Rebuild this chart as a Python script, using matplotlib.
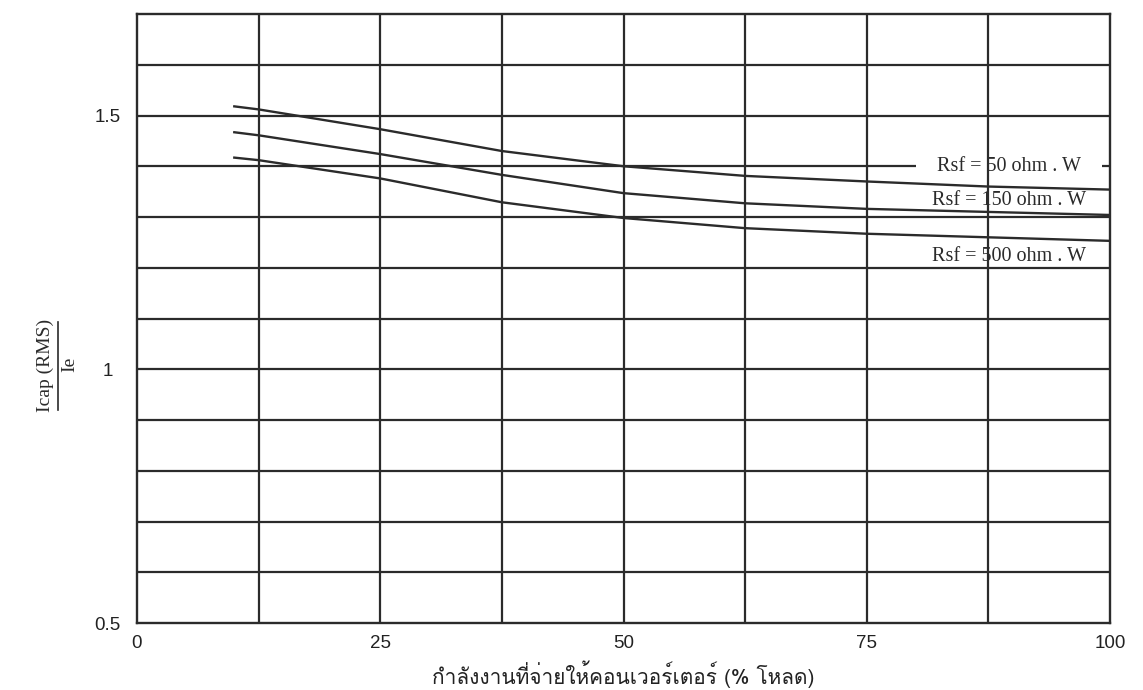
import numpy as np
import matplotlib
matplotlib.use("Agg")
import matplotlib.pyplot as plt
from matplotlib import font_manager
from matplotlib.ft2font import FT2Font
from matplotlib.lines import Line2D

# load (% of rated) and Icap(RMS)/Ie for each snubber resistance
load = [10, 12.5, 25, 37.5, 50, 62.5, 75, 87.5, 100]
rsf_50 = [1.518, 1.512, 1.473, 1.430, 1.400, 1.381, 1.370, 1.360, 1.354]
rsf_150 = [1.467, 1.461, 1.424, 1.383, 1.347, 1.327, 1.316, 1.310, 1.304]
rsf_500 = [1.417, 1.412, 1.376, 1.329, 1.298, 1.278, 1.267, 1.260, 1.253]

curve_labels = ["Rsf = 50 ohm . W", "Rsf = 150 ohm . W", "Rsf = 500 ohm . W"]
label_x = [89.6, 89.6, 89.6]
label_y = [1.400, 1.333, 1.222]

x_ticks = [0, 25, 50, 75, 100]
y_ticks = [0.5, 1, 1.5]
y_ticklabels = ["0.5", "1", "1.5"]
xlabel = "กำลังงานที่จ่ายให้คอนเวอร์เตอร์ (% โหลด)"


def thai_family():
    # first installed font that has Thai glyphs
    for f in font_manager.fontManager.ttflist:
        try:
            if 0x0E01 in FT2Font(f.fname).get_charmap():
                return f.name
        except Exception:
            pass
    return "DejaVu Sans"


ink = "#2b2b2b"
serif = "Liberation Serif"
sans = "Liberation Sans"

fig = plt.figure(figsize=(11.43, 6.90), dpi=100)
ax = fig.add_axes([137 / 1143, 1 - 623 / 690, 973 / 1143, 609 / 690])
ax.set_xlim(0, 100)
ax.set_ylim(0.5, 1.7)

# grid: horizontals under the labels, verticals over them
ax.hlines(np.arange(0.6, 1.65, 0.1), 0, 100, color=ink, lw=1.6, zorder=1)
ax.vlines(np.arange(12.5, 100, 12.5), 0.5, 1.7, color=ink, lw=1.6, zorder=4)
for s in ax.spines.values():
    s.set_color(ink)
    s.set_linewidth(1.7)

for ys in (rsf_50, rsf_150, rsf_500):
    ax.plot(load, ys, color=ink, lw=1.7, zorder=3)

for i, (t, lx, ly) in enumerate(zip(curve_labels, label_x, label_y)):
    if i == 0:
        ax.text(lx, ly, "    " + t + "    ", ha="center", va="center",
                family=serif, fontsize=14.5, color=ink, zorder=2,
                bbox=dict(boxstyle="square,pad=0.05", fc="white", ec="none"))
    else:
        ax.text(lx, ly, t, ha="center", va="center", family=serif,
                fontsize=14.5, color=ink, zorder=5)

ax.set_xticks(x_ticks)
ax.set_xticklabels([str(v) for v in x_ticks], family=sans, fontsize=13.5, color="#222")
ax.set_yticks(y_ticks)
ax.set_yticklabels(y_ticklabels, family=sans, fontsize=13.5, color="#222", ha="center")
ax.tick_params(axis="x", length=0, pad=9)
ax.tick_params(axis="y", length=0, pad=21)

ax.set_xlabel(xlabel, family=[thai_family(), "DejaVu Sans"], fontsize=15,
              color="#222", labelpad=6)

# y label written as a fraction
fig.text(45 / 1143, 1 - 365 / 690, "Icap (RMS)", rotation=90, ha="center",
         va="center", family=serif, fontsize=14, color=ink)
fig.add_artist(Line2D([58 / 1143, 58 / 1143], [1 - 410 / 690, 1 - 322 / 690],
                      transform=fig.transFigure, color=ink, lw=1.2))
fig.text(70 / 1143, 1 - 364 / 690, "Ie", rotation=90, ha="center",
         va="center", family=serif, fontsize=14, color=ink)

fig.savefig("out.png", dpi=100)
